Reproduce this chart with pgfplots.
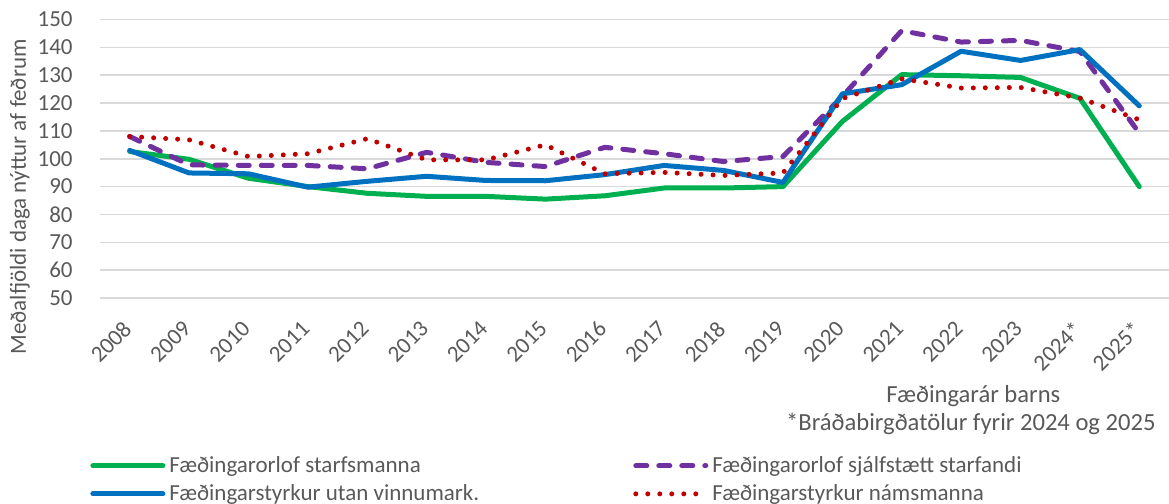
\documentclass[border=0pt]{standalone}
\usepackage{fontspec}
\setmainfont{Carlito}
\usepackage{pgfplots}
\pgfplotsset{compat=1.18}
\definecolor{txt}{HTML}{595959}
\definecolor{gridc}{HTML}{D9D9D9}
\definecolor{cgreen}{HTML}{00B050}
\definecolor{cpurple}{HTML}{7030A0}
\definecolor{cblue}{HTML}{0070C0}
\definecolor{cred}{HTML}{C00000}
\newcommand{\fsz}{\fontsize{11.5}{13.8}\selectfont}
\newcommand{\fszb}{\fontsize{12.3}{14.8}\selectfont}
\begin{document}
\begin{tikzpicture}
\path[use as bounding box] (-50pt,-103pt) rectangle (534.5pt,149pt);
\begin{axis}[
    scale only axis,
    width=534.5pt, height=139.25pt,
    xmin=-0.5, xmax=17.5, ymin=50, ymax=150,
    clip mode=individual,
    xtick={0,...,17},
    xticklabels={2008,2009,2010,2011,2012,2013,2014,2015,2016,2017,2018,2019,2020,2021,2022,2023,2024*,2025*},
    ytick={50,60,...,150},
    ymajorgrids,
    major grid style={draw=gridc, line width=0.75pt},
    axis line style={draw=none},
    tick style={draw=none},
    /pgf/number format/assume math mode=true,
    tick label style={font=\fsz, text=txt},
    yticklabel style={anchor=east, inner sep=0pt, xshift=-13.5pt},
    xticklabel style={xshift=-1pt, yshift=-13.5pt, rotate=45, anchor=east, inner sep=0pt},
    ylabel={Meðalfjöldi daga nýttur af feðrum},
    ylabel style={font=\fsz, text=txt, at={(axis description cs:-0.075,0.363)}, anchor=center, rotate=0},
    xlabel={Fæðingarár barns},
    xlabel style={font=\fszb, text=txt, at={(axis description cs:0.817,-0.352)}, anchor=center},
    legend columns=2,
    legend cell align=left,
    legend style={draw=none, fill=none, font=\fsz, text=txt,
        at={(axis description cs:-0.0094,-0.553)}, anchor=north west,
        inner sep=0pt, row sep=0.5pt,
        /tikz/every even column/.append style={column sep=75pt}},
    legend image code/.code={\draw[#1] (0pt,0pt) -- (35pt,0pt);},
    every axis plot/.append style={line width=2.5pt, line join=round},
]
\addplot[cgreen, line cap=round] coordinates {
    (0,102.6) (1,99.8) (2,93) (3,90) (4,87.6) (5,86.5) (6,86.5) (7,85.5) (8,86.7)
    (9,89.5) (10,89.5) (11,90) (12,113.4) (13,130.2) (14,129.8) (15,129.2) (16,121.7) (17,90)
};
\addlegendentry{Fæðingarorlof starfsmanna}
\addplot[cpurple, line cap=round, dash pattern=on 5.5pt off 6pt] coordinates {
    (0,108) (1,97.8) (2,97.6) (3,97.6) (4,96.4) (5,102.3) (6,98.7) (7,97.2) (8,104.1)
    (9,101.8) (10,99) (11,100.8) (12,122.4) (13,146) (14,141.9) (15,142.5) (16,138.5) (17,109.2)
};
\addlegendentry{Fæðingarorlof sjálfstætt starfandi}
\addplot[cblue, line cap=round] coordinates {
    (0,103) (1,94.9) (2,94.6) (3,89.8) (4,91.9) (5,93.7) (6,92.2) (7,92.1) (8,94.3)
    (9,97.6) (10,95.8) (11,91.5) (12,123.3) (13,126.6) (14,138.6) (15,135.3) (16,139.2) (17,119)
};
\addlegendentry{Fæðingarstyrkur utan vinnumark.}
\addplot[cred, line cap=round, dash pattern=on 0pt off 6pt] coordinates {
    (0,108) (1,106.8) (2,100.8) (3,101.8) (4,107.2) (5,99.6) (6,99.6) (7,105) (8,94.6)
    (9,95.1) (10,94) (11,94.9) (12,121.6) (13,128.7) (14,125.4) (15,125.6) (16,121.8) (17,114)
};
\addlegendentry{Fæðingarstyrkur námsmanna}
\node[font=\fszb, text=txt, anchor=east] at (axis description cs:0.994,-0.452) {*Bráðabirgðatölur fyrir 2024 og 2025};
\end{axis}
\end{tikzpicture}
\end{document}
